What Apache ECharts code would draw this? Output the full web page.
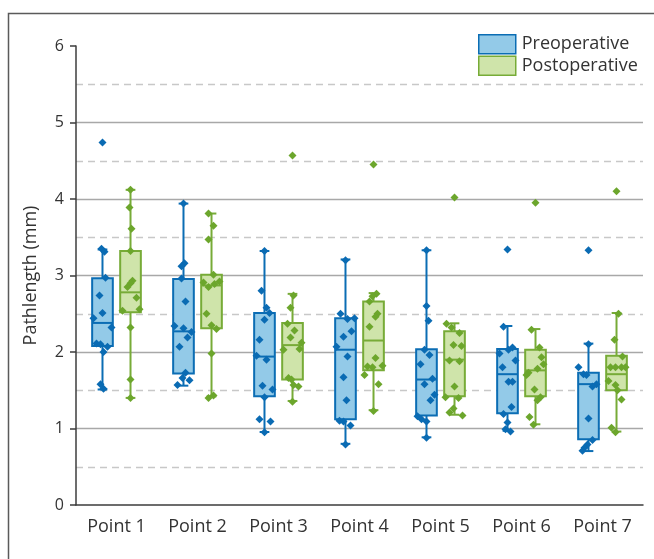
<!DOCTYPE html>
<html>
<head>
<meta charset="utf-8">
<script src="https://cdn.jsdelivr.net/npm/echarts@6/dist/echarts.min.js"></script>
<style>
html,body{margin:0;padding:0;background:#fff;}
#chart{width:654px;height:559px;}
</style>
</head>
<body>
<div id="chart"></div>
<script>
// ---- data ----
const categories = ['Point 1','Point 2','Point 3','Point 4','Point 5','Point 6','Point 7'];
const seriesNames = ['Preoperative','Postoperative'];
const yTicks = [0,1,2,3,4,5,6];

// box stats: [min, q1, median, q3, max]
const preBox = [
  [1.51,2.08,2.38,2.965,3.34],
  [1.56,1.72,2.27,2.955,3.94],
  [0.954,1.42,1.94,2.51,3.32],
  [0.80,1.12,2.03,2.44,3.21],
  [0.885,1.17,1.64,2.035,3.33],
  [0.97,1.20,1.71,2.04,2.34],
  [0.705,0.86,1.58,1.73,2.11]
];
const postBox = [
  [1.40,2.52,2.78,3.32,4.12],
  [1.42,2.31,2.87,3.01,3.81],
  [1.36,1.64,2.09,2.38,2.76],
  [1.24,1.76,2.15,2.66,2.77],
  [1.18,1.42,1.90,2.27,2.375],
  [1.055,1.42,1.76,2.03,2.30],
  [0.96,1.50,1.71,1.95,2.51]
];

// individual observations
const preValues = [
  [4.74,3.35,3.31,2.97,2.74,2.51,2.44,2.32,2.11,2.10,2.07,2.00,1.58,1.52],
  [3.94,3.16,3.12,2.96,2.66,2.34,2.31,2.26,2.19,2.07,1.73,1.66,1.63,1.57],
  [3.32,2.80,2.58,2.51,2.42,2.16,1.95,1.90,1.56,1.51,1.41,1.12,1.09,0.95],
  [3.20,2.50,2.43,2.44,2.27,2.20,2.07,1.94,1.67,1.37,1.10,1.09,1.04,0.79],
  [3.33,2.60,2.41,2.03,1.96,1.84,1.65,1.58,1.44,1.37,1.16,1.12,1.09,0.88],
  [3.34,2.33,2.06,2.03,1.98,1.89,1.80,1.61,1.61,1.28,1.19,1.08,0.99,0.96],
  [3.33,2.10,1.80,1.71,1.70,1.58,1.55,1.13,0.85,0.79,0.75,0.71]
];
const postValues = [
  [4.12,3.89,3.61,3.32,2.93,2.90,2.85,2.71,2.54,2.56,2.32,1.64,1.40],
  [3.81,3.65,3.47,3.01,2.91,2.85,2.89,2.92,2.50,2.35,2.30,1.98,1.40,1.43],
  [4.57,2.74,2.58,2.37,2.28,2.19,2.03,2.04,2.12,1.66,1.64,1.57,1.55,1.35],
  [4.45,2.76,2.73,2.66,2.50,2.46,2.33,1.92,1.81,1.80,1.82,1.70,1.58,1.23],
  [4.02,2.37,2.32,2.25,2.09,2.08,1.89,1.88,1.55,1.41,1.40,1.26,1.21,1.17],
  [3.95,2.29,2.06,1.93,1.84,1.78,1.73,1.70,1.51,1.41,1.37,1.15,1.05],
  [4.10,2.50,2.16,1.94,1.80,1.80,1.80,1.80,1.62,1.57,1.50,1.38,1.01,0.95]
];
// horizontal jitter of each observation (in 1/81 of a category band)
const preJitter = [
  [0,-1,2,3,-3,0,-9,9,-6,-2,5,1,-2,1],
  [0,1,-2,-2,2,-9,0,8,4,-4,2,-1,6,-6],
  [0,-3,2,5,0,-5,-8,2,-2,8,0,-5,6,0],
  [0,-5,2,9,6,-2,-9,2,-2,1,-6,-2,5,0],
  [0,0,2,-2,3,-6,6,-2,8,4,-9,-5,0,0],
  [0,-4,5,1,-8,8,-5,1,5,4,-4,0,-2,3],
  [0,0,-10,-5,-2,8,4,0,4,-1,-4,-6]
];
const postJitter = [
  [0,-1,1,0,2,0,-3,6,-8,9,0,0,0],
  [-3,2,-3,2,-8,-3,3,8,-5,0,5,0,-3,2],
  [0,1,-2,-5,2,-2,-9,7,9,-4,-1,1,6,0],
  [0,3,-1,-4,4,2,-4,2,-6,-1,9,-9,5,0],
  [0,-8,-3,5,-1,7,-5,5,0,-9,4,-1,-5,8],
  [0,-4,4,6,8,2,-7,-9,-1,5,2,-6,-2],
  [0,2,-2,6,-6,-1,5,9,-8,-1,1,5,-5,-1]
];

// ---- style ----
const JIT = 1/81;
const OFFSET = 0.173;
const BOX_W = 0.255;
const CAP_W = 0.12;
const C = {
  pre: {stroke:'#0b6db4', fill:'#93cae8', point:'#0a6bb3'},
  post:{stroke:'#77ab37', fill:'#cfe4aa', point:'#6ca62c'}
};
const FONT = '"Open Sans", "Noto Sans", sans-serif';

function boxData(stats){ return stats.map((s,i)=>[i].concat(s)); }
function pointData(vals, jit, off){
  const out=[];
  vals.forEach((arr,i)=>arr.forEach((v,j)=>out.push([i+off+jit[i][j]*JIT, v])));
  return out;
}
function makeRender(off, col){
  return function(params, api){
    const x = api.value(0)+off;
    const lo = api.coord([x, api.value(1)]);
    const q1 = api.coord([x, api.value(2)]);
    const md = api.coord([x, api.value(3)]);
    const q3 = api.coord([x, api.value(4)]);
    const hi = api.coord([x, api.value(5)]);
    const w = api.size([BOX_W,0])[0];
    const cw = api.size([CAP_W,0])[0];
    const ls = {stroke: col.stroke, lineWidth: 2, fill: null};
    return {type:'group', children:[
      {type:'line', shape:{x1:lo[0],y1:lo[1],x2:q1[0],y2:q1[1]}, style:ls},
      {type:'line', shape:{x1:q3[0],y1:q3[1],x2:hi[0],y2:hi[1]}, style:ls},
      {type:'line', shape:{x1:lo[0]-cw/2,y1:lo[1],x2:lo[0]+cw/2,y2:lo[1]}, style:ls},
      {type:'line', shape:{x1:hi[0]-cw/2,y1:hi[1],x2:hi[0]+cw/2,y2:hi[1]}, style:ls},
      {type:'rect', shape:{x:q3[0]-w/2, y:q3[1], width:w, height:q1[1]-q3[1]},
        style:{fill: col.fill, stroke: col.stroke, lineWidth: 2}},
      {type:'line', shape:{x1:md[0]-w/2,y1:md[1],x2:md[0]+w/2,y2:md[1]}, style:ls}
    ]};
  };
}

const chart = echarts.init(document.getElementById('chart'), null, {renderer:'canvas'});
chart.setOption({
  animation:false,
  backgroundColor:'#fff',
  graphic:[{type:'rect', shape:{x:8.5,y:13.5,width:700,height:600},
    style:{fill:null, stroke:'#5a5a5a', lineWidth:1.5}, silent:true, z:-10}],
  legend:{
    orient:'vertical', left:478, top:34, padding:0,
    itemWidth:37, itemHeight:19, itemGap:1,
    textStyle:{fontFamily:FONT, fontSize:18, color:'#333', lineHeight:20, padding:[0,0,0,1]},
    data:[
      {name:seriesNames[0], icon:'rect', itemStyle:{color:C.pre.fill, borderColor:C.pre.stroke, borderWidth:1.5}},
      {name:seriesNames[1], icon:'rect', itemStyle:{color:C.post.fill, borderColor:C.post.stroke, borderWidth:1.5}}
    ]
  },
  grid:{left:76, right:11, top:46, bottom:54, containLabel:false},
  xAxis:[
    {type:'category', data:categories, boundaryGap:true,
     axisLine:{lineStyle:{color:'#3c3c3c', width:1.5}},
     axisTick:{alignWithLabel:true, length:8, lineStyle:{color:'#3c3c3c', width:1.5}},
     axisLabel:{fontFamily:FONT, fontSize:18, color:'#333', margin:13},
     splitLine:{show:false}},
    {type:'value', min:-0.5, max:6.5, show:false}
  ],
  yAxis:{
    type:'value', min:yTicks[0], max:yTicks[yTicks.length-1], interval:1,
    name:'Pathlength (mm)', nameLocation:'middle', nameGap:36,
    nameTextStyle:{fontFamily:FONT, fontSize:18, color:'#333'},
    axisLine:{show:true, onZero:false, lineStyle:{color:'#3c3c3c', width:1.5}},
    axisTick:{show:true, length:6, lineStyle:{color:'#3c3c3c', width:1.5}},
    axisLabel:{fontFamily:FONT, fontSize:16, color:'#333', margin:12},
    splitLine:{show:true, showMinLine:false, showMaxLine:false, lineStyle:{color:'#a8a8a8', width:1.3}},
    minorTick:{show:false, splitNumber:2},
    minorSplitLine:{show:true, lineStyle:{color:'#c8c8c8', width:1.3, type:[7,5]}}
  },
  series:[
    {name:seriesNames[0], type:'custom', xAxisIndex:1, renderItem:makeRender(-OFFSET, C.pre),
     itemStyle:{color:C.pre.fill, borderColor:C.pre.stroke},
     encode:{x:0, y:[1,2,3,4,5]}, data:boxData(preBox), z:2},
    {name:seriesNames[1], type:'custom', xAxisIndex:1, renderItem:makeRender(OFFSET, C.post),
     itemStyle:{color:C.post.fill, borderColor:C.post.stroke},
     encode:{x:0, y:[1,2,3,4,5]}, data:boxData(postBox), z:2},
    {name:seriesNames[0], type:'scatter', xAxisIndex:1, symbol:'diamond', symbolSize:8,
     itemStyle:{color:C.pre.point, opacity:1}, data:pointData(preValues, preJitter, -OFFSET), z:3},
    {name:seriesNames[1], type:'scatter', xAxisIndex:1, symbol:'diamond', symbolSize:8,
     itemStyle:{color:C.post.point, opacity:1}, data:pointData(postValues, postJitter, OFFSET), z:3}
  ]
});
</script>
</body>
</html>
